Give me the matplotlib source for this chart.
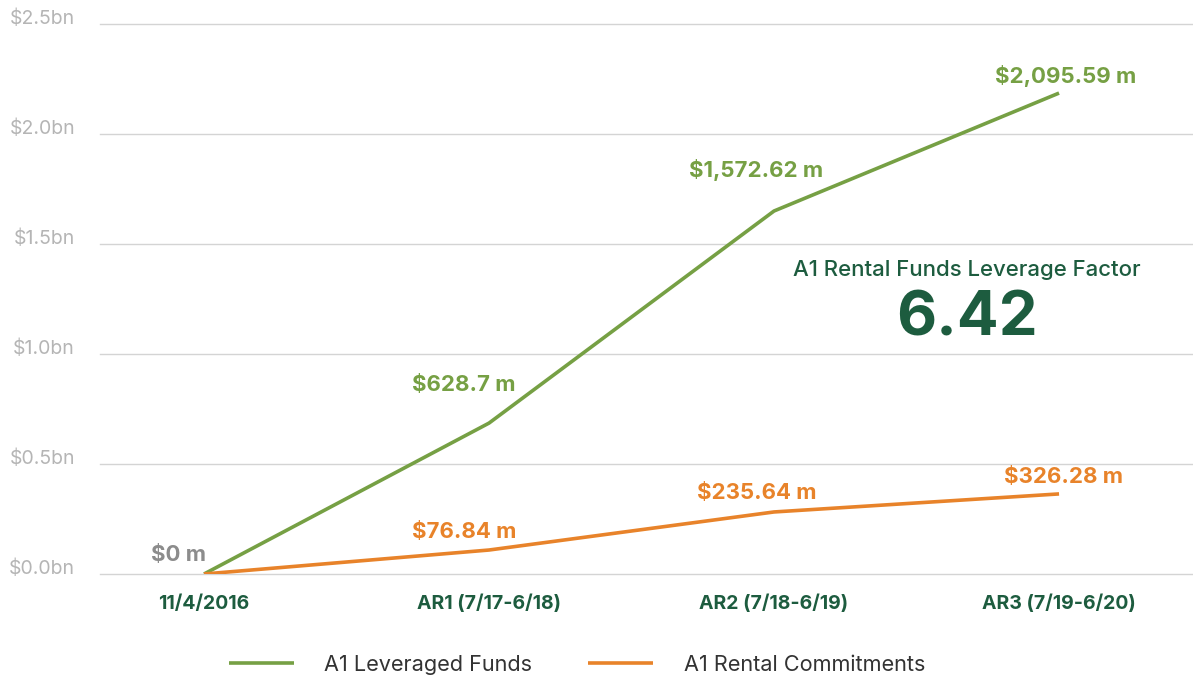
import matplotlib
matplotlib.use("Agg")
import matplotlib.pyplot as plt
import matplotlib.transforms as mtransforms

plt.rcParams["font.family"] = ["Inter", "DejaVu Sans"]

# data
CATEGORIES = ["11/4/2016", "AR1 (7/17-6/18)", "AR2 (7/18-6/19)", "AR3 (7/19-6/20)"]
LEVERAGED = [0.0, 0.686, 1.65, 2.186]          # plotted position, $bn
RENTAL = [0.0, 0.109, 0.282, 0.364]            # plotted position, $bn
LEVERAGED_LABELS = ["$0 m", "$628.7 m", "$1,572.62 m", "$2,095.59 m"]
RENTAL_LABELS = ["", "$76.84 m", "$235.64 m", "$326.28 m"]
YTICKS = [0.0, 0.5, 1.0, 1.5, 2.0, 2.5]
YTICK_LABELS = ["$0.0bn", "$0.5bn", "$1.0bn", "$1.5bn", "$2.0bn", "$2.5bn"]
FACTOR_TITLE = "A1 Rental Funds Leverage Factor"
FACTOR = "6.42"

GREEN = "#76a044"
ORANGE = "#e8832a"
DARK = "#1d5c3f"
GREY = "#b5b5b5"

# label offsets in pixels (dx, dy) relative to each point
LEV_OFF = [(-26, 19), (-25, 38), (-18, 41), (7, 17)]
REN_OFF = [(0, 0), (-25, 18), (-17, 19), (4, 17)]
LEV_COLORS = ["#8c8c8c", GREEN, GREEN, GREEN]

fig = plt.figure(figsize=(11.93, 6.80), dpi=100)
ax = fig.add_axes([100 / 1193, 106 / 680, 1093 / 1193, 550 / 680])

x = list(range(len(CATEGORIES)))
ax.plot(x, LEVERAGED, color=GREEN, lw=2.6, label="A1 Leveraged Funds",
        solid_capstyle="butt", zorder=3)
ax.plot(x, RENTAL, color=ORANGE, lw=2.6, label="A1 Rental Commitments",
        solid_capstyle="butt", zorder=3)

ax.set_xlim(-0.365, 3.47)
ax.set_ylim(0, 2.5)
ax.set_yticks(YTICKS)
ax.set_yticklabels(YTICK_LABELS, color=GREY, fontsize=14)
ax.set_xticks(x)
ax.set_xticklabels(CATEGORIES, color=DARK, fontsize=14, fontweight="bold")
ax.tick_params(axis="y", length=0, pad=18)
ax.tick_params(axis="x", length=0, pad=15)
shift = mtransforms.ScaledTranslation(0, 7 / 100, fig.dpi_scale_trans)
for lab in ax.get_yticklabels():
    lab.set_transform(lab.get_transform() + shift)

ax.grid(axis="y", color="#d4d4d4", lw=1, clip_on=False)
ax.set_axisbelow(True)
for s in ax.spines.values():
    s.set_visible(False)

for i in x:
    ax.annotate(LEVERAGED_LABELS[i], (i, LEVERAGED[i]),
                xytext=(LEV_OFF[i][0] * 0.72, LEV_OFF[i][1] * 0.72),
                textcoords="offset points", ha="center", va="center",
                fontsize=16, fontweight="bold", color=LEV_COLORS[i])
    if RENTAL_LABELS[i]:
        ax.annotate(RENTAL_LABELS[i], (i, RENTAL[i]),
                    xytext=(REN_OFF[i][0] * 0.72, REN_OFF[i][1] * 0.72),
                    textcoords="offset points", ha="center", va="center",
                    fontsize=16, fontweight="bold", color=ORANGE)

fig.text(967 / 1193, 1 - 270 / 680, FACTOR_TITLE, ha="center", va="center",
         fontsize=16, fontweight="medium", color=DARK)
fig.text(967 / 1193, 1 - 320 / 680, FACTOR, ha="center", va="center",
         fontsize=44.5, fontweight="bold", color=DARK)

fig.legend(loc="center", bbox_to_anchor=(577 / 1193, 1 - 665 / 680), ncol=2,
           frameon=False, fontsize=15.6, handlelength=3.0, handletextpad=1.4,
           columnspacing=2.6, labelcolor="#333333")

fig.savefig("out.png", dpi=100)
